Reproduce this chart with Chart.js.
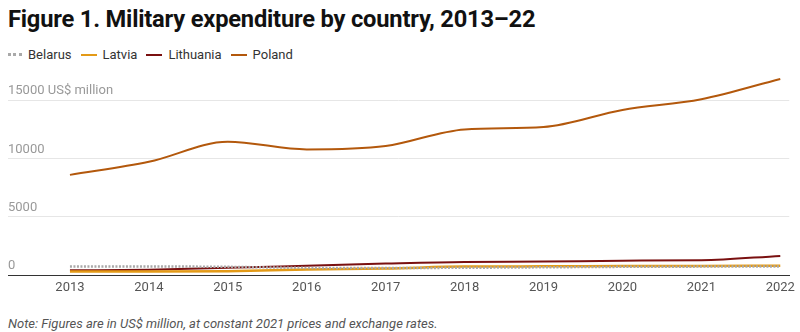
<!DOCTYPE html>
<html>
<head>
<meta charset="utf-8">
<script src="https://cdn.jsdelivr.net/npm/chart.js@4"></script>
<style>
  body { margin: 0; background: #fff; font-family: Roboto, "Noto Sans", sans-serif; }
  #title { position: absolute; left: 8px; top: 5px; font-size: 23.7px; font-weight: 700; color: #111; letter-spacing: -0.2px; }
  #legend { position: absolute; left: 8px; top: 47px; font-size: 13px; color: #333; display: flex; }
  .item { display: flex; align-items: center; margin-right: 9px; }
  .swatch { width: 16px; height: 0; margin-right: 6px; }
  #wrap { position: absolute; left: 0; top: 59px; width: 800px; height: 242px; }
  #note { position: absolute; left: 8px; top: 316px; font-size: 13px; font-style: italic; color: #555; }
</style>
</head>
<body>
<div id="title">Figure 1. Military expenditure by country, 2013–22</div>
<div id="legend"></div>
<div id="wrap"><canvas id="chart"></canvas></div>
<div id="note">Note: Figures are in US$ million, at constant 2021 prices and exchange rates.</div>
<script>
let years = [2013, 2014, 2015, 2016, 2017, 2018, 2019, 2020, 2021, 2022];
let belarus = [720, 730, 700, 610, 600, 620, 660, 700, 720, 740];
let latvia = [300, 300, 330, 470, 560, 720, 740, 770, 780, 800];
let lithuania = [400, 460, 620, 800, 980, 1120, 1150, 1230, 1260, 1640];
let poland = [8590, 9710, 11430, 10770, 11060, 12490, 12690, 14160, 15080, 16820];
let yTicks = [0, 5000, 10000, 15000];

let series = [
  { label: "Belarus", data: belarus, color: "#a9a9a9", dash: [2, 1.5], width: 2.5 },
  { label: "Latvia", data: latvia, color: "#e39a17", dash: [], width: 2.5 },
  { label: "Lithuania", data: lithuania, color: "#7a1010", dash: [], width: 2 },
  { label: "Poland", data: poland, color: "#b3580c", dash: [], width: 2 },
];

// html legend
let legend = document.querySelector("#legend");
legend.innerHTML = series
  .map((s) => {
    let border = s.dash.length
      ? `border-top: 3px dotted ${s.color}; width: 14px;`
      : `border-top: 2px solid ${s.color};`;
    return `<div class="item"><span class="swatch" style="${border}"></span>${s.label}</div>`;
  })
  .join("");

let datasets = series.map((s) => ({
  label: s.label,
  data: s.data.map((v, i) => ({ x: years[i], y: v })),
  borderColor: s.color,
  backgroundColor: s.color,
  borderWidth: s.width,
  borderDash: s.dash,
  pointRadius: 0,
  cubicInterpolationMode: "monotone",
  fill: false,
}));

new Chart(document.querySelector("#chart"), {
  type: "line",
  data: { datasets: datasets },
  options: {
    responsive: true,
    maintainAspectRatio: false,
    animation: false,
    layout: { padding: { left: 8, right: 10, top: 0, bottom: 0 } },
    plugins: { legend: { display: false }, tooltip: { enabled: false } },
    scales: {
      x: {
        type: "linear",
        min: 2012.215,
        max: 2022.114,
        afterBuildTicks: (scale) => {
          scale.ticks = years.map((y) => ({ value: y }));
        },
        afterFit: (scale) => {
          scale.height = 26;
        },
        grid: { display: false, drawTicks: false },
        border: { display: true, color: "#333", width: 1 },
        ticks: {
          padding: 5,
          color: "#555",
          font: { family: "Roboto", size: 13 },
          maxRotation: 0,
          callback: (v) => String(v),
        },
      },
      y: {
        min: 0,
        max: 17860,
        afterBuildTicks: (scale) => {
          scale.ticks = yTicks.map((v) => ({ value: v }));
        },
        afterFit: (scale) => {
          scale.width = 0;
        },
        grid: { color: "#e6e6e6", lineWidth: 1, drawTicks: false },
        border: { display: false },
        ticks: {
          mirror: true,
          padding: 0,
          labelOffset: -9,
          color: "#999",
          font: { family: "Roboto", size: 13 },
          callback: (v) => (v === 15000 ? "15000 US$ million" : String(v)),
        },
      },
    },
  },
});
</script>
</body>
</html>
